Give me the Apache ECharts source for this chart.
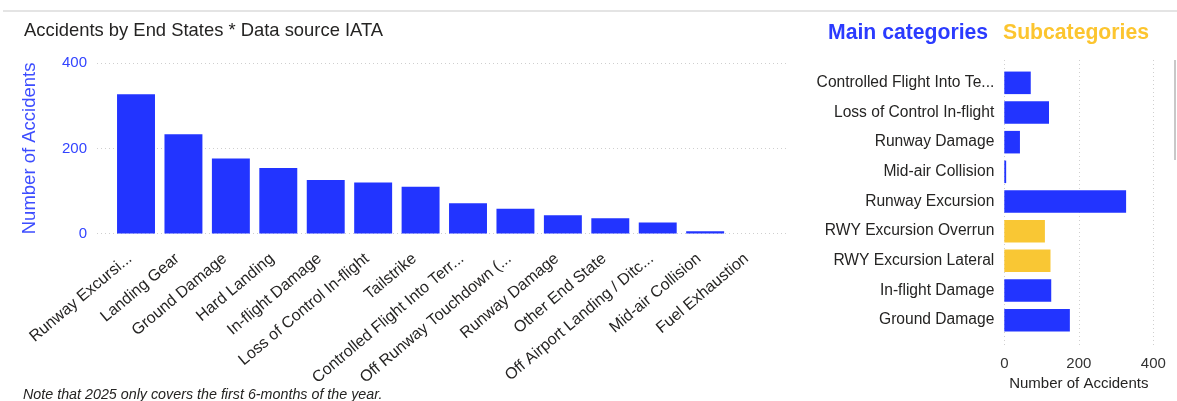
<!DOCTYPE html>
<html>
<head>
<meta charset="utf-8">
<script src="https://cdn.jsdelivr.net/npm/echarts@6/dist/echarts.min.js"></script>
<style>
  html, body { margin: 0; padding: 0; background: #fff; }
  #chart { width: 1177px; height: 401px; }
</style>
</head>
<body>
<div id="chart"></div>
<script>
// ---- Data ----
const endStateLabels = ['Runway Excursi...', 'Landing Gear', 'Ground Damage', 'Hard Landing', 'In-flight Damage', 'Loss of Control In-flight', 'Tailstrike', 'Controlled Flight Into Terr...', 'Off Runway Touchdown (...', 'Runway Damage', 'Other End State', 'Off Airport Landing / Ditc...', 'Mid-air Collision', 'Fuel Exhaustion'];
const endStateValues = [327, 233, 176, 154, 126, 120, 110, 71, 58, 43, 36, 26, 5, 0];

const categoryLabels = ['Controlled Flight Into Te...', 'Loss of Control In-flight', 'Runway Damage', 'Mid-air Collision', 'Runway Excursion', 'RWY Excursion Overrun', 'RWY Excursion Lateral', 'In-flight Damage', 'Ground Damage'];
const categoryValues = [71, 120, 42, 5, 327, 109, 124, 126, 176];
const categoryKinds = ['main', 'main', 'main', 'main', 'main', 'sub', 'sub', 'main', 'main'];

const valueTicks = [0, 200, 400];

// ---- Styles ----
const BLUE = '#2234FF';
const YELLOW = '#F9C734';
const FONT = 'Liberation Sans, Arial, sans-serif';
const GRID_LINE = { show: true, lineStyle: { color: '#cfcfcf', type: [1, 3], width: 1 } };

const chart = echarts.init(document.getElementById('chart'));

const option = {
  animation: false,
  textStyle: { fontFamily: FONT },
  grid: [
    { left: 112.3, right: 400.7, top: 63.3, bottom: 167.5, containLabel: false },
    { left: 97, right: 389, top: 63.3, bottom: 167.5, containLabel: false },
    { left: 1004.3, right: 23.7, top: 68, bottom: 66, containLabel: false },
    { left: 1004.3, right: 23.7, top: 60, bottom: 56, containLabel: false }
  ],
  xAxis: [
    {
      gridIndex: 0, type: 'category', data: endStateLabels,
      axisLine: { show: false }, axisTick: { show: false },
      axisLabel: { rotate: 40, interval: 0, fontSize: 16, color: '#252423', margin: 18, padding: [0, 8, 0, 0], fontFamily: FONT }
    },
    { gridIndex: 1, type: 'value', show: false, min: 0, max: 1 },
    { gridIndex: 2, type: 'value', min: 0, max: 400, interval: 200, show: false },
    {
      gridIndex: 3, type: 'value', min: 0, max: 400, interval: 200,
      axisLine: { show: false }, axisTick: { show: false },
      splitLine: GRID_LINE,
      axisLabel: { fontSize: 15, color: '#333333', margin: 11, fontFamily: FONT },
      name: 'Number of Accidents', nameLocation: 'middle', nameGap: 31,
      nameTextStyle: { fontSize: 15, color: '#252423', fontFamily: FONT }
    }
  ],
  yAxis: [
    { gridIndex: 0, type: 'value', min: 0, max: 400, interval: 200, show: false },
    {
      gridIndex: 1, type: 'value', min: 0, max: 400, interval: 200,
      axisLine: { show: false }, axisTick: { show: false },
      splitLine: GRID_LINE,
      axisLabel: { fontSize: 15, color: '#3344FF', margin: 10, fontFamily: FONT },
      name: 'Number of Accidents', nameLocation: 'middle', nameGap: 58,
      nameTextStyle: { fontSize: 18.5, color: '#3D4DFF', fontFamily: FONT }
    },
    {
      gridIndex: 2, type: 'category', data: categoryLabels, inverse: true,
      axisLine: { show: false }, axisTick: { show: false },
      axisLabel: { fontSize: 15.6, color: '#252423', margin: 10, fontFamily: FONT }
    },
    { gridIndex: 3, type: 'category', show: false, data: categoryLabels }
  ],
  series: [
    {
      type: 'bar', xAxisIndex: 0, yAxisIndex: 0,
      data: endStateValues, barCategoryGap: '20%',
      itemStyle: { color: BLUE }
    },
    {
      type: 'bar', xAxisIndex: 2, yAxisIndex: 2,
      data: categoryValues.map((v, i) => ({ value: v, itemStyle: { color: categoryKinds[i] === 'sub' ? YELLOW : BLUE } })),
      barCategoryGap: '24%'
    }
  ],
  graphic: [
    { type: 'rect', shape: { x: 3, y: 10, width: 1174, height: 2 }, style: { fill: '#e4e4e4' }, silent: true },
    { type: 'rect', shape: { x: 1174, y: 60, width: 2, height: 100 }, style: { fill: '#c8c8c8' }, silent: true },
    {
      type: 'text', x: 24, y: 31,
      style: { text: 'Accidents by End States * Data source IATA', fontSize: 18.4, fill: '#252423', fontFamily: FONT, textVerticalAlign: 'middle' }
    },
    {
      type: 'text', x: 23, y: 395,
      style: { text: 'Note that 2025 only covers the first 6-months of the year.', fontSize: 14.3, fontStyle: 'italic', fill: '#252423', fontFamily: FONT, textVerticalAlign: 'middle' }
    },
    {
      type: 'text', x: 828, y: 33,
      style: { text: 'Main categories', fontSize: 21.2, fontWeight: 'bold', fill: '#2B3BFF', fontFamily: FONT, textVerticalAlign: 'middle' }
    },
    {
      type: 'text', x: 1003, y: 33,
      style: { text: 'Subcategories', fontSize: 21.2, fontWeight: 'bold', fill: '#FCC52F', fontFamily: FONT, textVerticalAlign: 'middle' }
    }
  ]
};

chart.setOption(option);
</script>
</body>
</html>
